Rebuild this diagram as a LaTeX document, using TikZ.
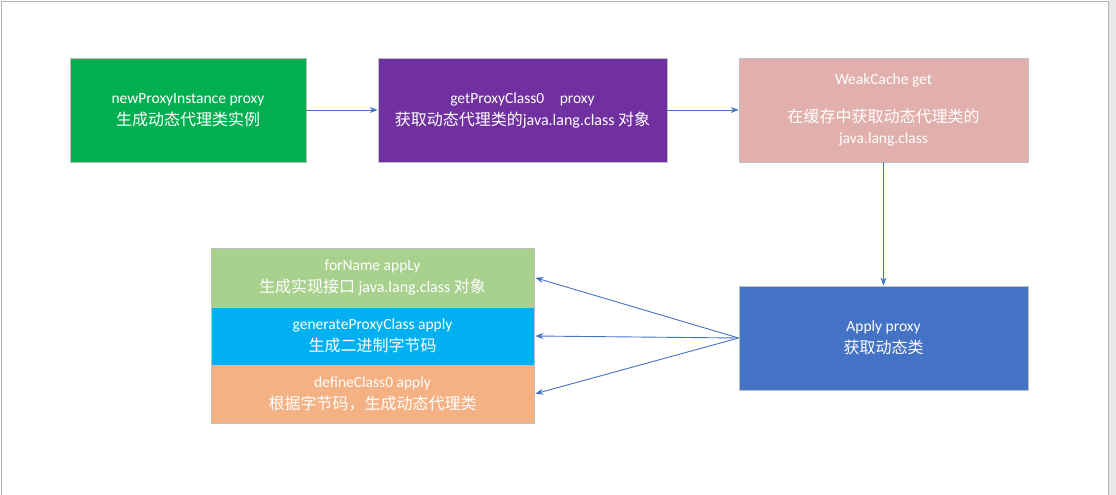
\documentclass[tikz,border=0pt]{standalone}
\usepackage{fontspec}
\setmainfont{Carlito}
\newfontfamily\cjk{Noto Sans CJK SC}
\usetikzlibrary{arrows.meta}
\definecolor{cgreen}{HTML}{00B050}
\definecolor{cpurple}{HTML}{7030A0}
\definecolor{cpink}{HTML}{E2B0AC}
\definecolor{cblue}{HTML}{4472C4}
\definecolor{clgreen}{HTML}{A9D18E}
\definecolor{ccyan}{HTML}{00B0F0}
\definecolor{corange}{HTML}{F4B183}
\definecolor{cedge}{HTML}{BFBFBF}
\definecolor{carrow}{HTML}{4472C4}
\definecolor{cframe}{HTML}{B4B4B4}
\definecolor{cstrip}{HTML}{E8E8E8}
\tikzset{
  box/.style={draw=cedge, line width=0.8pt, text=white, align=center,
    inner sep=0pt, font=\fontsize{15.5}{22}\selectfont},
  big/.style={minimum width=289pt, minimum height=104pt},
  strip/.style={minimum width=323pt, minimum height=58pt},
  arr/.style={draw=carrow, line width=0.9pt, -{Stealth[length=8pt,width=6pt]}}
}
\newcommand{\zh}[1]{{\cjk\fontsize{16}{22}\selectfont #1}}
\newcommand{\lt}[1]{{\fontsize{16}{22}\selectfont #1}}
\begin{document}
\begin{tikzpicture}[x=1pt,y=1pt]
\useasboundingbox (0,0) rectangle (1116,-495);
% page frame
\fill[cstrip] (1109,0) rectangle (1116,-495);
\draw[cframe, line width=0.8pt] (1.5,-495) -- (1.5,-1.5) -- (1108.5,-1.5) -- (1108.5,-495);

% top row
\node[box, fill=cgreen, minimum width=236pt, minimum height=104pt] (newp) at (188,-110)
  {newProxyInstance proxy\\ \zh{生成动态代理类实例}};
\node[box, big, fill=cpurple] (getp) at (522.5,-110)
  {getProxyClass0\quad proxy\\ \zh{获取动态代理类的}\lt{java.lang.class} \zh{对象}};
\node[box, big, fill=cpink] (weak) at (883.5,-110)
  {WeakCache get\\[16pt] \zh{在缓存中获取动态代理类的}\\[-1pt] java.lang.class};

% apply
\node[box, big, fill=cblue] (apply) at (883.5,-338)
  {Apply proxy\\ \zh{获取动态类}};

% stacked steps
\node[box, strip, minimum height=59pt, fill=clgreen] (forn) at (372.5,-277.5)
  {forName appLy\\ \zh{生成实现接口} \lt{java.lang.class} \zh{对象}};
\node[box, strip, fill=ccyan] (gen) at (372.5,-336)
  {generateProxyClass apply\\ \zh{生成二进制字节码}};
\node[box, strip, fill=corange] (def) at (372.5,-394)
  {defineClass0 apply\\ \zh{根据字节码，生成动态代理类}};

% connectors
\draw[arr] (newp.east) -- (getp.west);
\draw[arr] (getp.east) -- (weak.west);
\draw[arr] (weak.south) -- (apply.north);
\draw[arr, shorten >=1pt] (apply.west) -- (forn.east);
\draw[arr, shorten >=1pt] (apply.west) -- (gen.east);
\draw[arr, shorten >=1pt] (apply.west) -- (def.east);
\end{tikzpicture}
\end{document}
